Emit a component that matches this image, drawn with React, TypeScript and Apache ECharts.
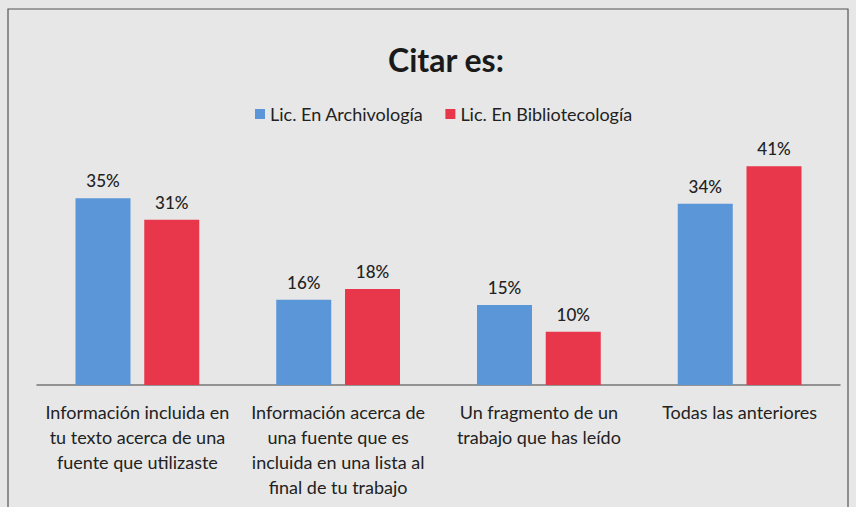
import React, { useEffect, useRef } from "react";
import * as echarts from "echarts";

const categories = [
  "Información incluida en\ntu texto acerca de una\nfuente que utilizaste",
  "Información acerca de\nuna fuente que es\nincluida en una lista al\nfinal de tu trabajo",
  "Un fragmento de un\ntrabajo que has leído",
  "Todas las anteriores",
];
const archivologia = [35, 16, 15, 34];
const bibliotecologia = [31, 18, 10, 41];
const seriesNames = ["Lic. En Archivología", "Lic. En Bibliotecología"];

const FONT = "Lato, 'Open Sans', sans-serif";

export default function App() {
  const ref = useRef<HTMLDivElement>(null);
  useEffect(() => {
    if (!ref.current) return;
    const chart = echarts.init(ref.current, undefined, { renderer: "svg" });
    const labelStyle = {
      show: true,
      position: "top" as const,
      distance: 9,
      formatter: "{c}%",
      color: "#222",
      fontSize: 17,
      fontFamily: FONT,
      fontWeight: 500,
    };
    chart.setOption({
      animation: false,
      backgroundColor: "#e7e7e7",
      title: {
        text: "Citar es:",
        left: 383,
        top: 38,
        textStyle: { fontSize: 32, fontWeight: "bold", color: "#1a1a1a", fontFamily: FONT },
      },
      legend: {
        data: seriesNames,
        top: 100,
        left: 250,
        itemWidth: 10,
        itemHeight: 10,
        itemGap: 22,
        icon: "rect",
        textStyle: { fontSize: 18, color: "#222", fontFamily: FONT },
      },
      grid: { left: 37, right: 16, top: 145, bottom: 122, containLabel: false },
      xAxis: {
        type: "category",
        data: categories,
        axisLine: { lineStyle: { color: "#777", width: 1.5 } },
        axisTick: { show: false },
        axisLabel: {
          interval: 0,
          margin: 14,
          fontSize: 18,
          lineHeight: 25,
          color: "#222",
          fontFamily: FONT,
        },
      },
      yAxis: {
        type: "value",
        min: 0,
        max: 45,
        show: false,
        splitLine: { show: false },
      },
      series: [
        {
          name: seriesNames[0],
          type: "bar",
          data: archivologia,
          barWidth: 55,
          barGap: "25%",
          itemStyle: { color: "#5a96d8" },
          label: labelStyle,
        },
        {
          name: seriesNames[1],
          type: "bar",
          data: bibliotecologia,
          barWidth: 55,
          itemStyle: { color: "#e8364b" },
          label: labelStyle,
        },
      ],
      graphic: [
        {
          type: "rect",
          shape: { x: 8, y: 9, width: 840, height: 510 },
          style: { fill: "none", stroke: "#555", lineWidth: 1.2 },
          silent: true,
        },
      ],
    });
    return () => chart.dispose();
  }, []);
  return (
    <div
      ref={ref}
      style={{ position: "fixed", left: 0, top: 0, width: 856, height: 507 }}
    />
  );
}
